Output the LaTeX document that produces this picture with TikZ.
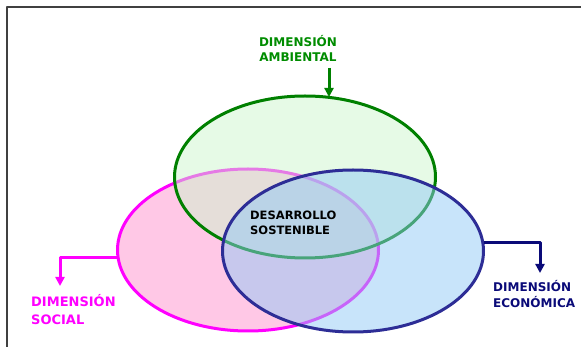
\documentclass[tikz,border=0pt]{standalone}
\usepackage{fontspec}
\setmainfont{DejaVu Sans}
\usetikzlibrary{shapes.geometric,arrows.meta}
\definecolor{rosa}{RGB}{255,200,230}
\definecolor{magenta2}{RGB}{255,0,255}
\definecolor{verdeF}{RGB}{205,245,205}
\definecolor{verde}{RGB}{0,128,0}
\definecolor{verdeT}{RGB}{0,140,0}
\definecolor{azulF}{RGB}{145,201,245}
\definecolor{azul}{RGB}{45,45,150}
\definecolor{marino}{RGB}{10,10,120}
\begin{document}
\begin{tikzpicture}[x=1pt, y=-1pt, line join=round, >={Triangle[width=9pt,length=9pt]},
	circ/.style={ellipse, inner sep=0pt, minimum width=261pt, minimum height=162pt, line width=3pt},
	dim/.style={inner sep=0pt, font=\bfseries},
	conn/.style={line width=3pt, ->}]
				\useasboundingbox (0,0) rectangle (581,347);
				% marco
				\draw[line width=2pt, black!75] (7,352)--(7,7)--(586,7);
				% tres dimensiones
				\node[circ, draw=magenta2, fill=rosa] (social) at (248,250) {};
				\node[circ, draw=verde, fill=verdeF, fill opacity=0.5] (ambiental) at (305,177) {};
				\node[circ, draw=azul, fill=azulF, fill opacity=0.5] (economica) at (353,251) {};
				% textos
				\node[dim, text=verdeT, anchor=north, align=center, font=\bfseries\fontsize{12}{15}\selectfont] (tamb) at (298,35.5) {DIMENSIÓN\\AMBIENTAL};
				\node[dim, text=magenta2, anchor=north west, align=left, font=\bfseries\fontsize{13}{18}\selectfont] (tsoc) at (31,294.5) {DIMENSIÓN\\SOCIAL};
				\node[dim, text=marino, anchor=north west, align=left, font=\bfseries\fontsize{12}{16}\selectfont] (teco) at (493,280.5) {DIMENSIÓN\\ECONÓMICA};
				\node[dim, text=black, anchor=north west, align=left, font=\bfseries\fontsize{11.5}{14.5}\selectfont] (tsost) at (250,211) {DESARROLLO\\SOSTENIBLE};
				% flechas
				\coordinate (pamb) at (329,68);
				\coordinate (qamb) at (329,97);
				\coordinate (psoc) at (118,258);
				\coordinate (qsoc) at (60,286);
				\coordinate (peco) at (484,243);
				\coordinate (qeco) at (540,273);
				\draw[conn, verde] (pamb)--(qamb);
				\draw[conn, magenta2] (psoc)-|(qsoc);
				\draw[conn, marino] (peco)-|(qeco);
\end{tikzpicture}
\end{document}
